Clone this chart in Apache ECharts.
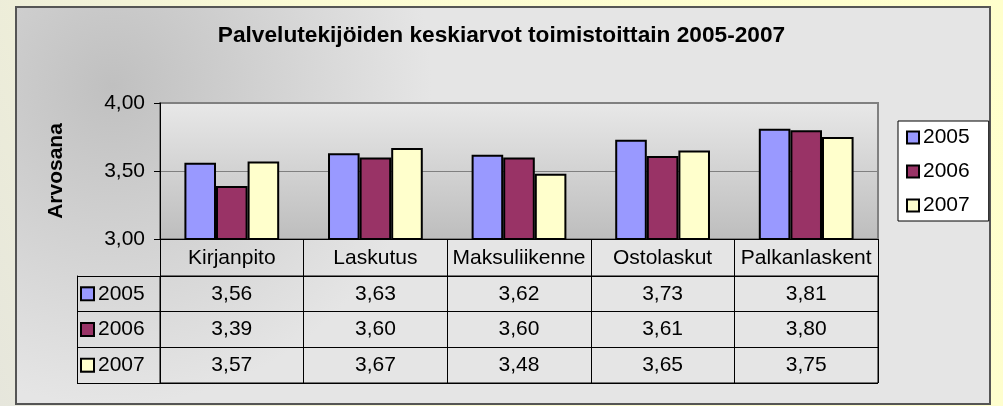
<!DOCTYPE html>
<html>
<head>
<meta charset="utf-8">
<script src="https://cdn.jsdelivr.net/npm/echarts@6/dist/echarts.min.js"></script>
<style>
  html, body { margin: 0; padding: 0; }
  #chart { width: 1003px; height: 406px; }
</style>
</head>
<body>
<div id="chart"></div>
<script>
const categories = ["Kirjanpito", "Laskutus", "Maksuliikenne", "Ostolaskut", "Palkanlaskent"];
const years = ["2005", "2006", "2007"];
const values2005 = [3.56, 3.63, 3.62, 3.73, 3.81];
const values2006 = [3.39, 3.60, 3.60, 3.61, 3.80];
const values2007 = [3.57, 3.67, 3.48, 3.65, 3.75];
const yTicks = [3.0, 3.5, 4.0];

const seriesValues = [values2005, values2006, values2007];
const colors = ["#9999ff", "#993366", "#ffffcc"];
const font = "'Liberation Sans', Arial, sans-serif";

// 3,56 style
const fmt = v => v.toFixed(2).replace(".", ",");

// data table cells: [category index, row index, value]
const cells = [];
seriesValues.forEach((vals, r) => {
  vals.forEach((v, c) => cells.push([c, r, v]));
});

const rich = { t: { fontSize: 21, fontFamily: font, color: "#000", padding: [0, 0, 0, 5] } };
colors.forEach((c, i) => {
  rich["s" + i] = { width: 11, height: 11, backgroundColor: c, borderColor: "#000", borderWidth: 2 };
});

const chart = echarts.init(document.getElementById("chart"));

chart.setOption({
  backgroundColor: {
    type: "linear", x: 0, y: 1, x2: 1, y2: 0,
    colorStops: [
      { offset: 0, color: "#e6e6dc" },
      { offset: 0.4, color: "#fbfbd4" },
      { offset: 1, color: "#ffffcc" }
    ]
  },
  textStyle: { fontFamily: font },
  animation: false,
  graphic: [{
    type: "rect",
    z: -10,
    shape: { x: 16, y: 7, width: 974, height: 397 },
    style: {
      fill: {
        type: "radial", x: 0.1, y: 0.2, r: 0.8,
        colorStops: [
          { offset: 0, color: "#c0c0c0" },
          { offset: 1, color: "#e5e5e5" }
        ]
      },
      stroke: "#555",
      lineWidth: 2
    }
  }],
  title: {
    text: "Palvelutekijöiden keskiarvot toimistoittain 2005-2007",
    left: "center",
    top: 24,
    padding: 0,
    textStyle: { fontSize: 22.7, fontWeight: "bold", color: "#000", fontFamily: font }
  },
  legend: {
    data: years,
    orient: "vertical",
    left: 898,
    top: 121,
    padding: [6, 19, 5, 8],
    itemGap: 13,
    itemWidth: 12,
    itemHeight: 12,
    icon: "rect",
    backgroundColor: "#ffffff",
    borderColor: "#000",
    borderWidth: 1,
    itemStyle: { borderColor: "#000", borderWidth: 2 },
    textStyle: { fontSize: 21, color: "#000", fontFamily: font, padding: [0, 0, 0, -1] }
  },
  grid: [
    {
      left: 160, top: 103, width: 718, height: 136,
      show: true,
      backgroundColor: {
        type: "linear", x: 0, y: 0, x2: 0, y2: 1,
        colorStops: [
          { offset: 0, color: "#e8e8e8" },
          { offset: 1, color: "#bdbdbd" }
        ]
      },
      borderColor: "#808080",
      borderWidth: 2
    },
    {
      left: 160, top: 276, width: 718, height: 107,
      show: true,
      borderColor: "#000",
      borderWidth: 1
    }
  ],
  xAxis: [
    {
      type: "category",
      gridIndex: 0,
      data: categories,
      axisLine: { show: true, lineStyle: { color: "#000", width: 1 } },
      axisTick: { show: true, length: 37, interval: 0, lineStyle: { color: "#000", width: 1 } },
      axisLabel: { interval: 0, margin: 9, fontSize: 21, color: "#000", fontFamily: font }
    },
    {
      type: "category",
      gridIndex: 1,
      data: categories,
      axisLine: { show: false },
      axisTick: { show: false },
      axisLabel: { show: false },
      splitLine: { show: true, interval: 0, lineStyle: { color: "#000", width: 1 } }
    }
  ],
  yAxis: [
    {
      type: "value",
      gridIndex: 0,
      min: yTicks[0],
      max: yTicks[yTicks.length - 1],
      interval: 0.5,
      name: "Arvosana",
      nameLocation: "middle",
      nameRotate: 90,
      nameGap: 93,
      nameTextStyle: { fontSize: 21, fontWeight: "bold", color: "#000", fontFamily: font },
      axisLine: { show: true, lineStyle: { color: "#000", width: 1 } },
      axisTick: { show: true, length: 6, lineStyle: { color: "#000" } },
      axisLabel: { margin: 15, fontSize: 21, color: "#000", fontFamily: font, formatter: v => fmt(v) },
      splitLine: { lineStyle: { color: "#808080", width: 1 } }
    },
    {
      type: "category",
      gridIndex: 1,
      data: years,
      inverse: true,
      offset: 83,
      axisLine: { show: true, lineStyle: { color: "#000", width: 1 } },
      axisTick: { show: true, inside: true, length: 83, lineStyle: { color: "#000" } },
      axisLabel: {
        inside: true,
        margin: 5,
        align: "left",
        formatter: (v, i) => "{s" + i + "|}{t|" + v + "}",
        rich: rich
      },
      splitLine: { show: true, lineStyle: { color: "#000", width: 1 } }
    }
  ],
  series: years.map((y, i) => ({
    name: y,
    type: "bar",
    xAxisIndex: 0,
    yAxisIndex: 0,
    data: seriesValues[i],
    barGap: "0%",
    barCategoryGap: "34%",
    itemStyle: { color: colors[i], borderColor: "#000", borderWidth: 2 }
  })).concat([{
    name: "taulukko",
    type: "scatter",
    xAxisIndex: 1,
    yAxisIndex: 1,
    symbolSize: 0,
    itemStyle: { color: "#000", opacity: 1 },
    data: cells,
    label: {
      show: true,
      position: [0, 0],
      align: "center",
      verticalAlign: "middle",
      fontSize: 21,
      color: "#000",
      opacity: 1,
      textBorderWidth: 0,
      fontFamily: font,
      formatter: p => fmt(p.value[2])
    }
  }])
});
</script>
</body>
</html>
